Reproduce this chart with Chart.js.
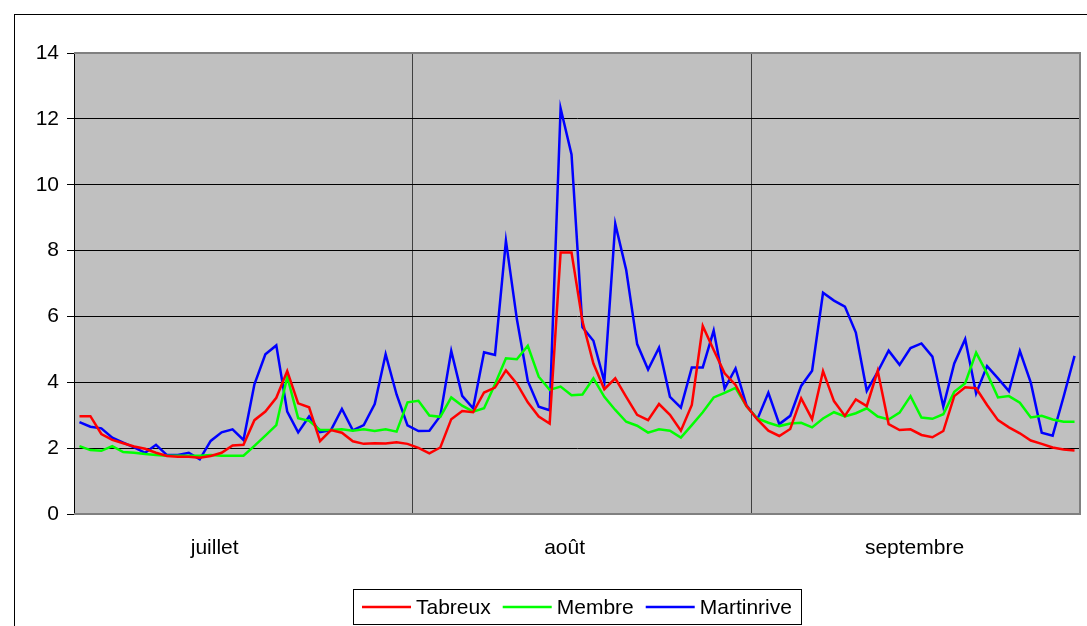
<!DOCTYPE html>
<html>
<head>
<meta charset="utf-8">
<script src="https://cdn.jsdelivr.net/npm/chart.js@4.4.1/dist/chart.umd.min.js"></script>
<style>
  body { margin: 0; background: #fff; }
  canvas { display: block; }
</style>
</head>
<body>
<canvas id="chart" width="1087" height="626"></canvas>
<script>
const months = ["juillet", "août", "septembre"];
const monthDays = [31, 31, 30];
const monthLabelAt = [12, 44, 76];
const yTicks = [0, 2, 4, 6, 8, 10, 12, 14];

const tabreux = [
  2.97, 2.97, 2.43, 2.25, 2.15, 2.05, 1.98, 1.86, 1.76, 1.74, 1.74, 1.71, 1.76, 1.86, 2.08, 2.10,
  2.85, 3.11, 3.53, 4.34, 3.36, 3.24, 2.21, 2.55, 2.47, 2.21, 2.13, 2.15, 2.14, 2.18, 2.13,
  2.01, 1.84, 2.02, 2.88, 3.13, 3.09, 3.69, 3.84, 4.36, 3.96, 3.39, 2.96, 2.75, 7.94, 7.94, 5.85,
  4.57, 3.79, 4.12, 3.56, 3.01, 2.85, 3.34, 3.01, 2.53, 3.31, 5.71, 4.98, 4.27, 3.92, 3.28,
  2.87, 2.53, 2.37, 2.58, 3.51, 2.88, 4.34, 3.43, 2.98, 3.48, 3.28, 4.35, 2.73, 2.55, 2.57, 2.40,
  2.33, 2.52, 3.58, 3.85, 3.82, 3.31, 2.85, 2.63, 2.45, 2.23, 2.13, 2.02, 1.96, 1.93
];
const membre = [
  2.06, 1.94, 1.92, 2.06, 1.88, 1.86, 1.82, 1.79, 1.77, 1.77, 1.77, 1.77, 1.79, 1.77, 1.77, 1.77,
  2.07, 2.38, 2.70, 4.17, 2.91, 2.83, 2.55, 2.55, 2.57, 2.53, 2.57, 2.52, 2.57, 2.50, 3.39,
  3.44, 2.99, 2.95, 3.54, 3.29, 3.11, 3.21, 3.94, 4.73, 4.70, 5.11, 4.17, 3.77, 3.87, 3.61, 3.63,
  4.12, 3.56, 3.16, 2.80, 2.68, 2.47, 2.57, 2.53, 2.32, 2.70, 3.09, 3.54, 3.68, 3.83, 3.27,
  2.90, 2.77, 2.67, 2.75, 2.77, 2.63, 2.90, 3.09, 2.96, 3.06, 3.21, 2.96, 2.87, 3.08, 3.58, 2.93,
  2.89, 3.03, 3.71, 3.97, 4.90, 4.27, 3.54, 3.58, 3.38, 2.93, 2.98, 2.87, 2.80, 2.80
];
const martinrive = [
  2.79, 2.65, 2.60, 2.32, 2.17, 2.02, 1.86, 2.10, 1.79, 1.79, 1.86, 1.66, 2.22, 2.48, 2.57, 2.25,
  3.94, 4.85, 5.12, 3.11, 2.48, 2.96, 2.49, 2.55, 3.19, 2.54, 2.70, 3.34, 4.85, 3.63, 2.69,
  2.52, 2.53, 2.98, 4.95, 3.59, 3.21, 4.91, 4.83, 8.30, 5.92, 4.04, 3.26, 3.15, 12.32, 10.92, 5.67,
  5.26, 4.02, 8.81, 7.41, 5.16, 4.39, 5.05, 3.56, 3.23, 4.45, 4.45, 5.57, 3.81, 4.42, 3.30,
  2.88, 3.68, 2.73, 2.98, 3.89, 4.35, 6.72, 6.48, 6.30, 5.51, 3.74, 4.32, 4.96, 4.53, 5.04, 5.18,
  4.78, 3.26, 4.57, 5.31, 3.66, 4.49, 4.12, 3.73, 4.95, 3.99, 2.47, 2.38, 3.56, 4.80
];

// one category per day, month boundaries get a vertical line
const days = [];
const monthStarts = [];
monthDays.forEach((n, m) => {
  monthStarts.push(days.length);
  for (let d = 1; d <= n; d++) days.push(`${d} ${months[m]}`);
});

const font = { family: "'Liberation Sans', Arial, sans-serif", size: 21 };

const frame = {
  id: "frame",
  beforeDraw(chart) {
    const { ctx, chartArea: a } = chart;
    ctx.save();
    ctx.fillStyle = "#fff";
    ctx.fillRect(0, 0, chart.width, chart.height);
    ctx.strokeStyle = "#000";
    ctx.lineWidth = 1;
    ctx.strokeRect(14.5, 14.5, chart.width + 20, chart.height + 20);
    ctx.fillStyle = "#c0c0c0";
    ctx.fillRect(a.left, a.top, a.right - a.left, a.bottom - a.top);
    ctx.restore();
  },
  beforeDatasetsDraw(chart) {
    const { ctx, chartArea: a } = chart;
    ctx.save();
    ctx.strokeStyle = "#808080";
    ctx.lineWidth = 2;
    ctx.beginPath();
    ctx.moveTo(a.left, a.top);
    ctx.lineTo(a.right, a.top);
    ctx.lineTo(a.right, a.bottom);
    ctx.lineTo(a.left, a.bottom);
    ctx.stroke();
    ctx.restore();
  },
  afterDraw(chart) {
    // boxed legend under the plot
    const { ctx, chartArea: a } = chart;
    const sets = chart.data.datasets;
    ctx.save();
    ctx.font = `${font.size}px ${font.family}`;
    const lineW = 49, gap = 5, sep = 12, pad = 9;
    const widths = sets.map(s => ctx.measureText(s.label).width);
    let total = pad * 2 + sep * (sets.length - 1);
    widths.forEach(w => (total += lineW + gap + w));
    const left = Math.round((a.left + a.right) / 2 - total / 2);
    const top = 589, h = 35;
    ctx.strokeStyle = "#000";
    ctx.lineWidth = 1;
    ctx.strokeRect(left + 0.5, top + 0.5, Math.round(total), h);
    let x = left + pad;
    const cy = top + h / 2 + 0.5;
    ctx.textBaseline = "middle";
    ctx.fillStyle = "#000";
    sets.forEach((s, i) => {
      ctx.strokeStyle = s.borderColor;
      ctx.lineWidth = 2.5;
      ctx.beginPath();
      ctx.moveTo(x, cy);
      ctx.lineTo(x + lineW, cy);
      ctx.stroke();
      x += lineW + gap;
      ctx.fillText(s.label, x, cy + 1);
      x += widths[i] + sep;
    });
    ctx.restore();
  }
};

new Chart(document.getElementById("chart"), {
  type: "line",
  data: {
    labels: days,
    datasets: [
      { label: "Tabreux", data: tabreux, borderColor: "#ff0000" },
      { label: "Membre", data: membre, borderColor: "#00ff00" },
      { label: "Martinrive", data: martinrive, borderColor: "#0000ff" }
    ]
  },
  options: {
    responsive: false,
    animation: false,
    layout: { padding: { left: 0, right: 7, top: 53, bottom: 0 } },
    elements: {
      line: { borderWidth: 2.5, tension: 0 },
      point: { radius: 0 }
    },
    plugins: {
      legend: { display: false },
      tooltip: { enabled: false }
    },
    scales: {
      x: {
        offset: true,
        grid: {
          offset: true,
          drawTicks: false,
          color: c => (monthStarts.includes(c.index) && c.index > 0 ? "#404040" : "transparent")
        },
        border: { display: false },
        ticks: {
          autoSkip: false,
          maxRotation: 0,
          padding: 22,
          labelOffset: 4,
          color: "#000",
          font,
          callback: (v, i) => (monthLabelAt.includes(i) ? months[monthLabelAt.indexOf(i)] : "")
        },
        afterFit: s => {
          s.height = 112;
          s.paddingLeft = 0;
          s.paddingRight = 0;
        }
      },
      y: {
        min: 0,
        max: 14,
        afterBuildTicks: s => { s.ticks = yTicks.map(v => ({ value: v })); },
        grid: {
          color: c => (c.tick.value === 0 || c.tick.value === 14 ? "transparent" : "#000"),
          tickColor: "#000",
          tickLength: 7
        },
        border: { color: "#000", width: 1 },
        ticks: { color: "#000", font, padding: 8 },
        afterFit: s => { s.width = 74; }
      }
    }
  },
  plugins: [frame]
});
</script>
</body>
</html>
